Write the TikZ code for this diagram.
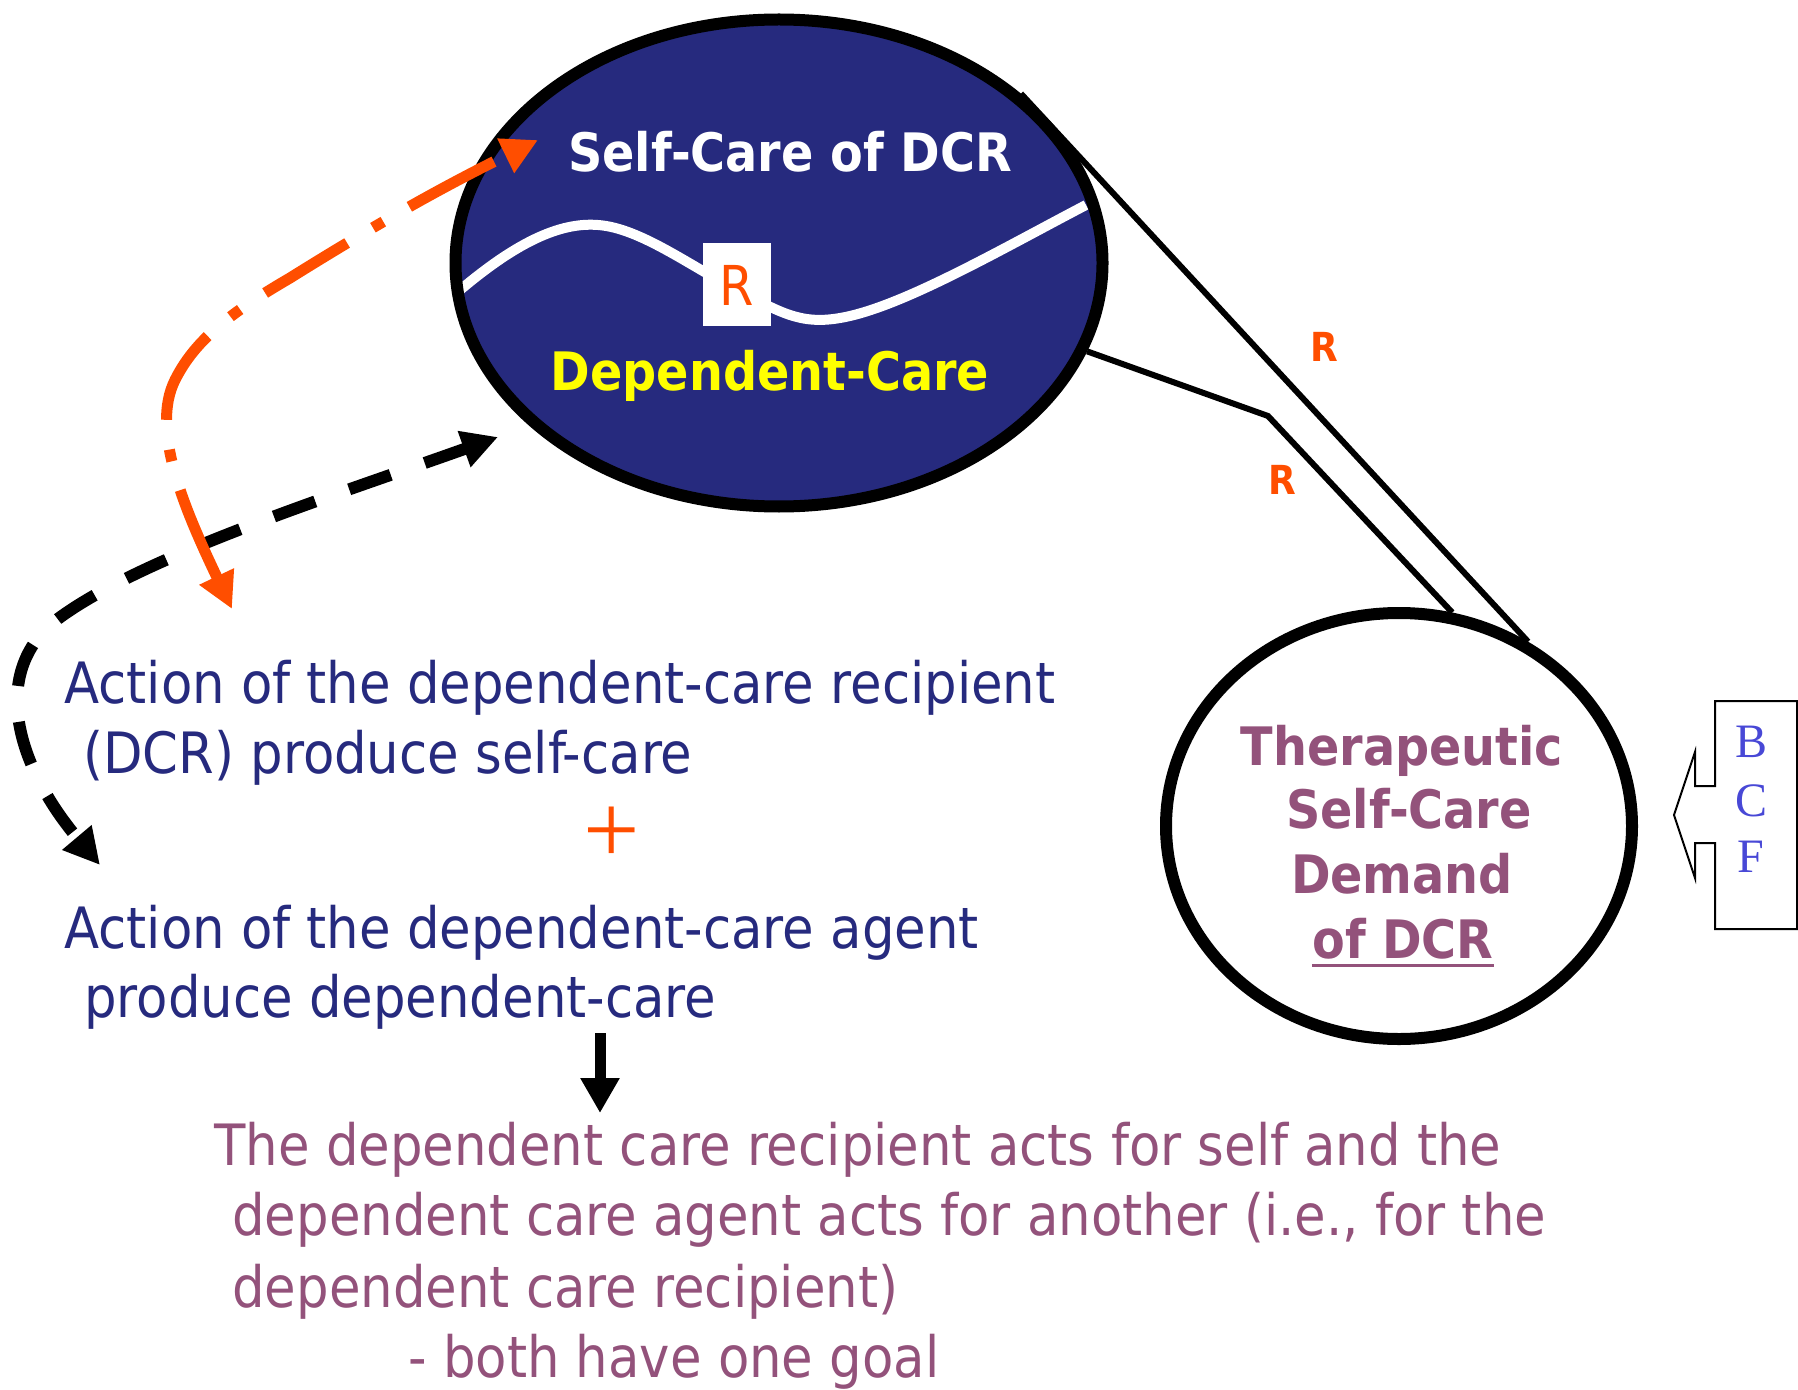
\documentclass[tikz,border=0pt]{standalone}
\usepackage{fontspec}
\setmainfont{DejaVu Sans Condensed}
\newfontfamily\serf{Liberation Serif}
\usetikzlibrary{arrows.meta,shapes.geometric}
\definecolor{navy}{RGB}{38,42,126}
\definecolor{orangeR}{RGB}{255,78,0}
\definecolor{purpleT}{RGB}{147,82,123}
\definecolor{blueL}{RGB}{72,72,214}
\definecolor{yellowT}{RGB}{255,255,0}
\begin{document}
\begin{tikzpicture}[x=0.5pt,y=-0.5pt,
  txt/.style={anchor=base west, inner sep=0pt, font=\fontsize{28.5}{34}\selectfont},
  lefttxt/.style={txt, text=navy},
  bottxt/.style={txt, text=purpleT},
  boldlbl/.style={anchor=base, inner sep=0pt, font=\bfseries\fontsize{26.5}{32}\selectfont},
  circtxt/.style={boldlbl, text=purpleT},
  smallR/.style={inner sep=0pt, text=orangeR, font=\bfseries\fontsize{20}{24}\selectfont},
  bigoval/.style={ellipse, inner sep=0pt, minimum width=323.5pt, minimum height=243.5pt},
  demand/.style={ellipse, inner sep=0pt, minimum width=233pt, minimum height=213pt, draw=black, line width=6pt},
  link/.style={draw=black, line width=3pt, line join=miter},
  bcf/.style={anchor=base, inner sep=0pt, text=blueL, font=\serf\fontsize{24}{28}\selectfont},
]
\useasboundingbox (0,0) rectangle (1798,1390);

% big navy oval
\node[bigoval, fill=navy] (dc) at (779,263) {};
\draw[white, line width=5pt]
  (452,297) .. controls (515,242) and (560,222) .. (598,225)
  .. controls (640,228) and (690,266) .. (737,290)
  .. controls (780,312) and (800,325) .. (840,318)
  .. controls (900,308) and (1000,250) .. (1086,205);
\node[fill=white, minimum width=34pt, minimum height=41.5pt, inner sep=0pt,
  text=orangeR, font=\fontsize{27.5}{32}\selectfont] (rbox) at (737,285) {R};
\node[bigoval, draw=black, line width=6pt] (dcb) at (779,263) {};
\node[boldlbl, text=white] (sc) at (790,172) {Self-Care of DCR};
\node[boldlbl, text=yellowT] (dep) at (770,391) {Dependent-Care};

% demand circle
\node[demand] (tsc) at (1399,826) {};
\node[circtxt] (t1) at (1402,765) {Therapeutic};
\node[circtxt] (t2) at (1409,828) {Self-Care};
\node[circtxt] (t3) at (1402,893) {Demand};
\node[circtxt] (t4) at (1403,958) {of DCR};
\draw[purpleT, line width=1.5pt] ([yshift=-3.5pt]t4.base west) -- ([yshift=-3.5pt]t4.base east);

% links between oval and circle
\coordinate (elbow) at (1268,416);
\draw[link] (dcb.35.3) -- (tsc.55.3);
\draw[link] (dcb.-16.7) -- (elbow) -- (tsc.76.5);
\node[smallR] (r1) at (1324,347) {R};
\node[smallR] (r2) at (1282,480) {R};

% BCF callout
\draw[black, line width=1pt, line join=miter]
  (1715,701) -- (1797,701) -- (1797,929) -- (1715,929) -- (1715,843) -- (1695,843)
  -- (1695,878) -- (1674,815) -- (1695,752) -- (1695,786) -- (1715,786) -- cycle;
\node[bcf] (b) at (1751,757) {B};
\node[bcf] (c) at (1751,816) {C};
\node[bcf] (f) at (1751,872) {F};

% left texts
\node[lefttxt] (a1) at (64,703) {Action of the dependent-care recipient};
\node[lefttxt] (a2) at (83,773) {(DCR) produce self-care};
\node[inner sep=0pt, text=orangeR, font=\serf\fontsize{50}{56}\selectfont] (plus) at (612,835) {+};
\node[lefttxt] (a3) at (64,948) {Action of the dependent-care agent};
\node[lefttxt] (a4) at (84,1017) {produce dependent-care};

% bottom texts
\node[bottxt] (g1) at (214,1165) {The dependent care recipient acts for self and the};
\node[bottxt] (g2) at (232,1235) {dependent care agent acts for another (i.e., for the};
\node[bottxt] (g3) at (232,1307) {dependent care recipient)};
\node[bottxt] (g4) at (408,1377) {- both have one goal};

% down arrow
\coordinate (dA) at (600,1033);
\coordinate (dB) at (600,1113);
\draw[line width=5.5pt, -{Triangle[length=17.5pt,width=18.5pt]}] (dA) -- (dB);

% black dashed double arrow
\coordinate (bA) at (498,437);
\coordinate (bB) at (100,865);
\draw[line width=6pt, dash pattern=on 22pt off 18pt, {Triangle[length=18pt,width=18pt]}-{Triangle[length=18pt,width=18pt]}]
  (bA) .. controls (330,497) and (130,560) .. (50,625)
  .. controls (-10,680) and (20,770) .. (bB);

% orange dash-dot double arrow
\coordinate (oA) at (538,140);
\coordinate (oB) at (232,609);
\draw[orangeR, line width=5.5pt, dash pattern=on 48pt off 15pt on 6pt off 15pt,
  {Triangle[length=18pt,width=18pt]}-{Triangle[length=18pt,width=18pt]}]
  (oB) .. controls (185,510) and (150,430) .. (175,380)
  .. controls (195,340) and (230,313) .. (290,278)
  .. controls (370,228) and (440,188) .. (oA);
\end{tikzpicture}
\end{document}
